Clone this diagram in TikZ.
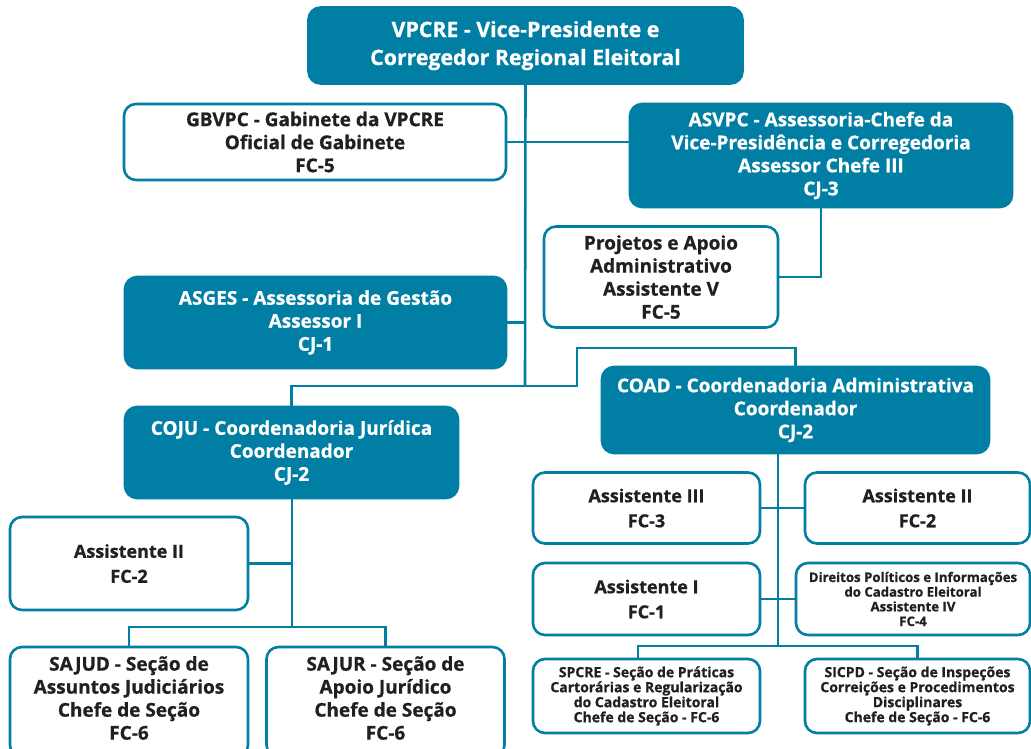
\documentclass[tikz,border=0pt]{standalone}
\usepackage{fontspec}
\setmainfont{Open Sans}[BoldFeatures={FakeBold=0.8}]
\definecolor{teal}{RGB}{0,126,163}
\definecolor{ink}{RGB}{35,31,32}
\begin{document}
\begin{tikzpicture}[x=1pt,y=-1pt,
  box/.style={rounded corners=12pt, line width=2.6pt, align=center,
    inner sep=0pt, font=\bfseries},
  dark/.style={box, fill=teal, draw=teal, text=white},
  light/.style={box, fill=white, draw=teal, text=ink},
  link/.style={draw=teal, line width=2.6pt},
  big/.style={font=\bfseries\fontsize{21.3}{28}\selectfont},
  mid/.style={font=\bfseries\fontsize{19}{23}\selectfont},
  midl/.style={font=\bfseries\fontsize{18}{25}\selectfont},
  low/.style={font=\bfseries\fontsize{19}{23}\selectfont},
  small/.style={font=\bfseries\fontsize{14}{15}\selectfont},
  tiny/.style={font=\bfseries\fontsize{13.2}{14.7}\selectfont}]
\useasboundingbox (0,0) rectangle (1031,748);
\clip (0,0) rectangle (1031,748);

% boxes: centre, width, height in pixel units
\node[dark, big, minimum width=434, minimum height=76] (vpcre) at (525.5,45.5)
  {VPCRE - Vice-Presidente e\\Corregedor Regional Eleitoral};
\node[light, mid, minimum width=382, minimum height=76] (gbvpc) at (315,142)
  {GBVPC - Gabinete da VPCRE\\Oficial de Gabinete\\FC-5};
\node[dark, mid, minimum width=382, minimum height=103] (asvpc) at (821,155.5)
  {ASVPC - Assessoria-Chefe da\\Vice-Presidência e Corregedoria\\Assessor Chefe III\\CJ-3};
\node[light, mid, minimum width=234, minimum height=101] (proj) at (661,277)
  {Projetos e Apoio\\Administrativo\\Assistente V\\FC-5};
\node[dark, mid, minimum width=381, minimum height=91] (asges) at (315.5,322.5)
  {ASGES - Assessoria de Gestão\\Assessor I\\CJ-1};
\node[dark, mid, minimum width=333, minimum height=91] (coju) at (291.5,452.5)
  {COJU - Coordenadoria Jurídica\\Coordenador\\CJ-2};
\node[dark, mid, minimum width=387, minimum height=86] (coad) at (795.5,410)
  {COAD - Coordenadoria Administrativa\\Coordenador\\CJ-2};

\node[light, midl, minimum width=227, minimum height=71] (as3) at (646.5,508)
  {Assistente III\\FC-3};
\node[light, midl, minimum width=225, minimum height=71] (as2r) at (917.5,508)
  {Assistente II\\FC-2};
\node[light, midl, minimum width=227, minimum height=72] (as1) at (646.5,599)
  {Assistente I\\FC-1};
\node[light, tiny, minimum width=234, minimum height=72] (dir) at (913,599)
  {Direitos Políticos e Informações\\do Cadastro Eleitoral\\Assistente IV\\FC-4};
\node[light, small, minimum width=227, minimum height=74] (spcre) at (646.5,696)
  {SPCRE - Seção de Práticas\\Cartorárias e Regularização\\do Cadastro Eleitoral\\Chefe de Seção - FC-6};
\node[light, small, minimum width=225, minimum height=74] (sicpd) at (917.5,696)
  {SICPD - Seção de Inspeções\\Correições e Procedimentos\\Disciplinares\\Chefe de Seção - FC-6};

\node[light, midl, minimum width=238, minimum height=93] (as2l) at (129,563.5)
  {Assistente II\\FC-2};
\node[light, minimum width=238, minimum height=110] (sajud) at (129,702) {};
\node[light, minimum width=238, minimum height=110] (sajur) at (385.5,702) {};
% labels of the two lowest boxes, set a little above their centres
\node[low, text=ink, align=center] (sajudtext) at (129,698)
  {SAJUD - Seção de\\Assuntos Judiciários\\Chefe de Seção\\FC-6};
\node[low, text=ink, align=center] (sajurtext) at (385.5,698)
  {SAJUR - Seção de\\Apoio Jurídico\\Chefe de Seção\\FC-6};

% junction points of the connectors
\coordinate (split) at (525,386);
\coordinate (step1) at (577,386);
\coordinate (step2) at (577,348);
\coordinate (ctop) at (778,453);
\coordinate (cbot) at (778,646);
\coordinate (cleft) at (638,646);
\coordinate (jtop) at (292,497);
\coordinate (jbot) at (292,627);

\draw[link] (vpcre.south) -- (split);
\draw[link] (gbvpc.east) -- (asvpc.west |- gbvpc.east);
\draw[link] (asges.east) -- (asges.east -| split);
\draw[link] (split) -| (coju.north);
\draw[link] (split) -- (step1) -- (step2) -| (coad.north);
\draw[link] (asvpc.south) |- (proj.east);

\draw[link] (ctop) -- (cbot);
\draw[link] (as3.east) -- (as2r.west |- as3.east);
\draw[link] (as1.east) -- (dir.west |- as1.east);
\draw[link] (cleft |- spcre.north) -- (cleft) -- (cleft -| sicpd.north) -- (sicpd.north);

\draw[link] (jtop) -- (jbot);
\draw[link] (as2l.east) -- (as2l.east -| jtop);
\draw[link] (sajud.north) -- (sajud.north |- jbot) -- (sajur.north |- jbot) -- (sajur.north);
\end{tikzpicture}
\end{document}
